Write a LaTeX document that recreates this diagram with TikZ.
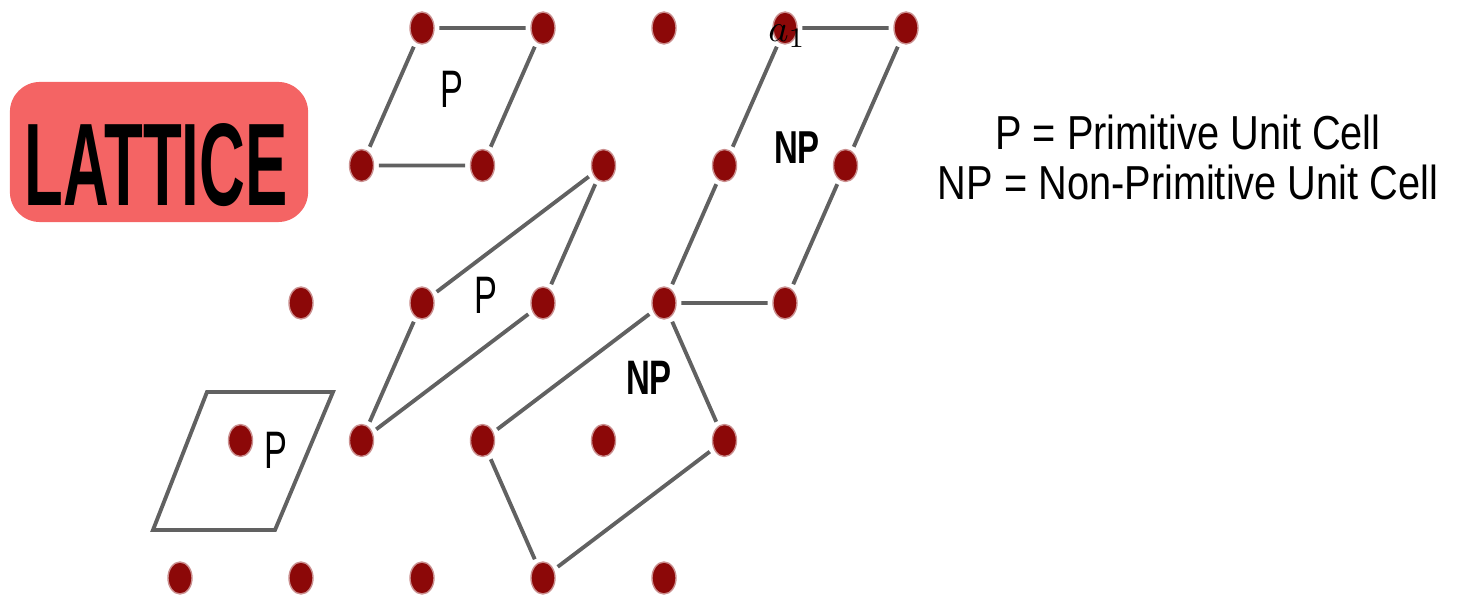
\documentclass[tikz,border=0pt]{standalone}
\usepackage{fontspec}
\setmainfont{Liberation Sans}
\usepackage{graphicx}
\usepackage{tikz}
\usetikzlibrary{shapes.geometric}
\definecolor{atomred}{HTML}{8C0808}
\definecolor{tagred}{HTML}{F46464}

\begin{document}
\begin{tikzpicture}[x=0.01cm,y=-0.01cm,
  site/.style={ellipse,fill=atomred,draw=atomred!45!white,line width=0.4pt,minimum width=0.24cm,minimum height=0.32cm,inner sep=0pt,outer sep=1.5pt},
  cell/.style={draw=black!62,line width=1.1pt},
  lbl/.style={font=\fontsize{15}{15}\selectfont,inner sep=0pt},
  nplbl/.style={font=\fontsize{12.5}{12.5}\selectfont\bfseries,inner sep=0pt}]
  \useasboundingbox (0,0) rectangle (1482,601);
  \node[fill=tagred,rounded corners=0.3cm,minimum width=2.98cm,minimum height=1.4cm] (tag) at (159,152) {};
  \node[font=\fontsize{33.4}{33.4}\selectfont\bfseries,inner sep=0pt] (tagtxt) at (156,165) {\scalebox{0.54}[1]{LATTICE}};
  \foreach \i in {0,...,4}
    \foreach \j in {0,...,4}
      \node[site] (s\i\j) at ({180+121*\i+60.5*\j},{578-137.5*\j}) {};
  \draw[cell] (s03) -- (s13) -- (s14) -- (s04) -- (s03);
  \draw[cell] (s11) -- (s12) -- (s23) -- (s22) -- (s11);
  \draw[cell] (s32) -- (s42) -- (s43) -- (s44) -- (s34) -- (s33) -- (s32);
  \draw[cell] (s32) -- (s41) -- (s30) -- (s21) -- (s32);
  \coordinate (c1) at (207,392);
  \coordinate (c2) at (333,392);
  \coordinate (c3) at (275,530);
  \coordinate (c4) at (153,530);
  \draw[cell] (c1) -- (c2) -- (c3) -- (c4) -- cycle;
  \node[lbl] (ptop) at (452,89) {\scalebox{0.65}[1]{P}};
  \node[lbl] (pmid) at (486,295) {\scalebox{0.65}[1]{P}};
  \node[lbl] (plow) at (276,450) {\scalebox{0.65}[1]{P}};
  \node[nplbl] (nptop) at (797,148) {\scalebox{0.75}[1.05]{NP}};
  \node[nplbl] (nplow) at (649,378) {\scalebox{0.75}[1.1]{NP}};
  \node[font=\fontsize{11}{11}\selectfont,inner sep=0pt] (avec) at (787,36) {$a_1$};
  \node[font=\fontsize{11.3}{14.2}\selectfont,align=center] (key) at (1188,157)
    {\scalebox{1}[1.2]{P = Primitive Unit Cell}\\\scalebox{1}[1.2]{NP = Non-Primitive Unit Cell}};
\end{tikzpicture}
\end{document}
